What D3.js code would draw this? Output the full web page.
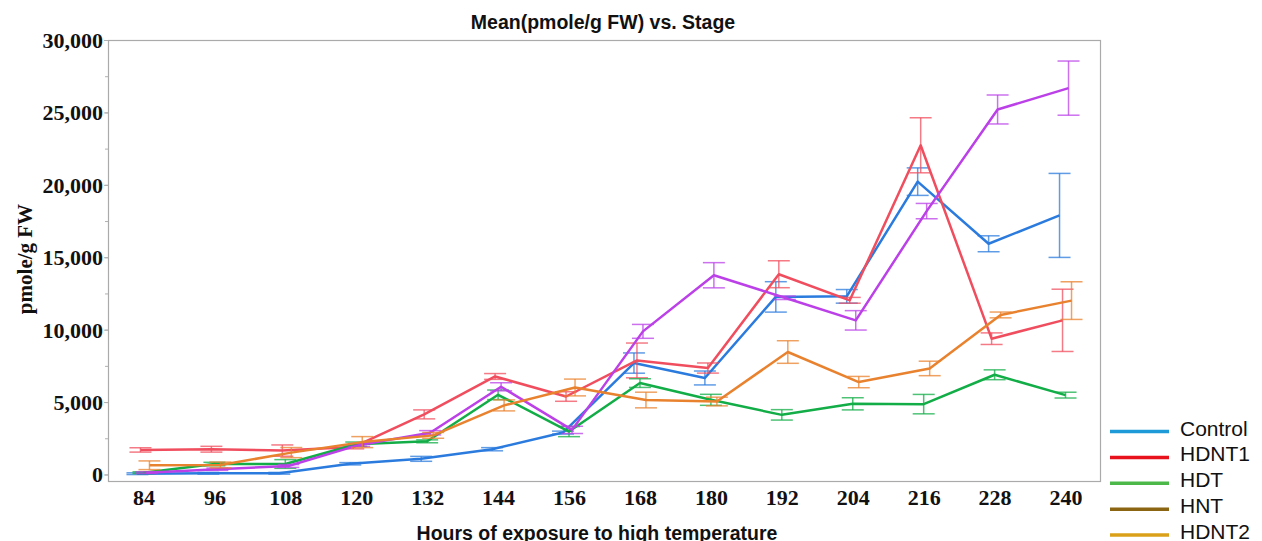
<!DOCTYPE html>
<html>
<head>
<meta charset="utf-8">
<script src="https://cdn.jsdelivr.net/npm/d3@7"></script>
<style>
  body { margin: 0; background: #fff; }
  svg { display: block; }
</style>
</head>
<body>
<script>
'use strict';

// hours of exposure (x categories)
const hours = [84, 96, 108, 120, 132, 144, 156, 168, 180, 192, 204, 216, 228, 240];

// mean values (pmole/g FW) per series
const controlMean = [55, 83, 83, 740, 1080, 1744, 2893, 7693, 6664, 12262, 12300, 20220, 15930, 17888];
const controlErr  = [60, 60, 60, 80, 170, 110, 100, 700, 480, 1050, 470, 950, 550, 2900];

const hdnt1Mean = [1695, 1744, 1650, 1890, 4150, 6768, 5384, 7876, 7350, 13826, 12027, 22730, 9377, 10643];
const hdnt1Err  = [150, 200, 390, 120, 310, 200, 330, 1200, 350, 930, 200, 1900, 400, 2150];

const hdtMean = [125, 720, 726, 2090, 2290, 5501, 2962, 6311, 5155, 4117, 4879, 4858, 6885, 5480];
const hdtErr  = [60, 120, 300, 150, 100, 330, 350, 300, 380, 360, 420, 670, 340, 200];

const hntMean = [125, 360, 588, 2041, 2880, 6055, 3079, 9882, 13757, 12200, 10643, 18186, 25203, 26677];
const hntErr  = [60, 80, 100, 100, 150, 280, 250, 480, 870, 120, 670, 530, 1000, 1870];

const hdnt2Mean = [637, 657, 1510, 2235, 2700, 4770, 6007, 5142, 5038, 8456, 6380, 7322, 11016, 12006];
const hdnt2Err  = [300, 200, 350, 380, 200, 380, 580, 540, 300, 780, 390, 500, 200, 1300];

// legend entries (legend colours differ from the plotted ones in the original)
const legendNames = ['Control', 'HDNT1', 'HDT', 'HNT', 'HDNT2'];
const legendColors = ['#1f9ad8', '#e8121c', '#4cb84a', '#8c6512', '#dba01a'];

const yTicks = [0, 5000, 10000, 15000, 20000, 25000, 30000];

(function() {

  let svgContainer = "";

  // series table built from the arrays above
  const series = [
    { name: 'Control', mean: controlMean, err: controlErr, color: '#2b7bde', shift: -6 },
    { name: 'HDNT1',   mean: hdnt1Mean,   err: hdnt1Err,   color: '#f04e5e', shift: -3 },
    { name: 'HDT',     mean: hdtMean,     err: hdtErr,     color: '#12ad47', shift: 0 },
    { name: 'HNT',     mean: hntMean,     err: hntErr,     color: '#bb40e8', shift: 3 },
    { name: 'HDNT2',   mean: hdnt2Mean,   err: hdnt2Err,   color: '#e9822e', shift: 6 }
  ];

  window.onload = function() {
    svgContainer = d3.select('body')
      .append('svg')
      .attr('width', 1262)
      .attr('height', 541);

    let map = drawAxes();
    plotData(map);
    makeLabels();
    makeLegend();
  }

  // draw frame, axes and ticks
  function drawAxes() {
    let left = 108, right = 1101, top = 40, bottom = 481;

    let xScale = d3.scalePoint()
      .domain(hours)
      .range([left, right])
      .padding(0.5);

    let yScale = d3.scaleLinear()
      .domain([-450, 30000])
      .range([bottom, top]);

    // plot frame
    svgContainer.append('rect')
      .attr('x', left + 0.5)
      .attr('y', top + 0.5)
      .attr('width', right - left - 1)
      .attr('height', bottom - top)
      .attr('fill', 'none')
      .attr('stroke', '#aaaaaa')
      .attr('stroke-width', 1.2);

    // minor ticks every 2500
    let minor = d3.range(0, 30001, 2500);
    let yMinor = d3.axisLeft(yScale).tickValues(minor).tickSize(3).tickFormat('');
    let gMinor = svgContainer.append('g')
      .attr('transform', 'translate(' + left + ', 0)')
      .call(yMinor);
    gMinor.select('.domain').remove();
    gMinor.selectAll('line').attr('stroke', '#b0b0b0');

    // y axis labels
    let yAxis = d3.axisLeft(yScale).tickValues(yTicks).tickSize(4).tickPadding(1)
      .tickFormat(d3.format(','));
    let gy = svgContainer.append('g')
      .attr('transform', 'translate(' + left + ', 0)')
      .call(yAxis);
    gy.select('.domain').remove();
    gy.selectAll('line').attr('stroke', '#b0b0b0');
    gy.selectAll('text')
      .attr('dy', '0.34em')
      .style('font-family', "'Liberation Serif', 'Times New Roman', serif")
      .style('font-weight', 'bold')
      .style('font-size', '22px')
      .attr('fill', '#111');

    // x axis labels
    let xAxis = d3.axisBottom(xScale).tickSize(0).tickPadding(8);
    let gx = svgContainer.append('g')
      .attr('transform', 'translate(0, ' + bottom + ')')
      .call(xAxis);
    gx.select('.domain').remove();
    gx.selectAll('text')
      .style('font-family', "'Liberation Serif', 'Times New Roman', serif")
      .style('font-weight', 'bold')
      .style('font-size', '22px')
      .attr('fill', '#111');

    return { xScale: xScale, yScale: yScale };
  }

  // lines and error bars
  function plotData(map) {
    let xScale = map.xScale;
    let yScale = map.yScale;
    let capHalf = 11;

    series.forEach(function(s) {
      let pts = hours.map(function(h, i) {
        return { x: xScale(h) + s.shift, m: s.mean[i], e: s.err[i] };
      });

      let g = svgContainer.append('g');

      // error bars
      let bars = g.selectAll('.bar')
        .data(pts)
        .enter()
        .append('g')
        .attr('stroke', s.color)
        .attr('stroke-width', 1.5)
        .attr('stroke-opacity', 0.75);

      bars.append('line')
        .attr('x1', d => d.x).attr('x2', d => d.x)
        .attr('y1', d => yScale(d.m + d.e))
        .attr('y2', d => yScale(d.m - d.e));
      bars.append('line')
        .attr('x1', d => d.x - capHalf).attr('x2', d => d.x + capHalf)
        .attr('y1', d => yScale(d.m + d.e))
        .attr('y2', d => yScale(d.m + d.e));
      bars.append('line')
        .attr('x1', d => d.x - capHalf).attr('x2', d => d.x + capHalf)
        .attr('y1', d => yScale(d.m - d.e))
        .attr('y2', d => yScale(d.m - d.e));

      // mean line
      let line = d3.line()
        .x(d => d.x)
        .y(d => yScale(d.m));

      g.append('path')
        .datum(pts)
        .attr('fill', 'none')
        .attr('stroke', s.color)
        .attr('stroke-width', 2.5)
        .attr('stroke-linejoin', 'round')
        .attr('d', line);
    });
  }

  // title and axis titles
  function makeLabels() {
    svgContainer.append('text')
      .attr('x', 603)
      .attr('y', 29)
      .attr('text-anchor', 'middle')
      .style('font-family', "'Liberation Sans', Arial, sans-serif")
      .style('font-weight', 'bold')
      .style('font-size', '19.5px')
      .attr('fill', '#111')
      .text('Mean(pmole/g FW) vs. Stage');

    svgContainer.append('text')
      .attr('x', 597)
      .attr('y', 540)
      .attr('text-anchor', 'middle')
      .style('font-family', "'Liberation Sans', Arial, sans-serif")
      .style('font-weight', 'bold')
      .style('font-size', '19.5px')
      .attr('fill', '#111')
      .text('Hours of exposure to high temperature');

    svgContainer.append('text')
      .attr('transform', 'translate(32, 259)rotate(-90)')
      .attr('text-anchor', 'middle')
      .style('font-family', "'Liberation Serif', 'Times New Roman', serif")
      .style('font-weight', 'bold')
      .style('font-size', '21px')
      .attr('fill', '#111')
      .text('pmole/g FW');
  }

  // legend at bottom right
  function makeLegend() {
    let legendY = d3.scalePoint()
      .domain(legendNames)
      .range([435.5, 539]);

    let items = svgContainer.selectAll('.legend')
      .data(legendNames)
      .enter()
      .append('g');

    items.append('line')
      .attr('x1', 1110)
      .attr('x2', 1169)
      .attr('y1', d => legendY(d) - 4)
      .attr('y2', d => legendY(d) - 4)
      .attr('stroke', (d, i) => legendColors[i])
      .attr('stroke-width', 3.5);

    items.append('text')
      .attr('x', 1180)
      .attr('y', d => legendY(d))
      .style('font-family', "'Liberation Sans', Arial, sans-serif")
      .style('font-size', '21px')
      .attr('fill', '#111')
      .text(d => d);
  }

})();
</script>
</body>
</html>
